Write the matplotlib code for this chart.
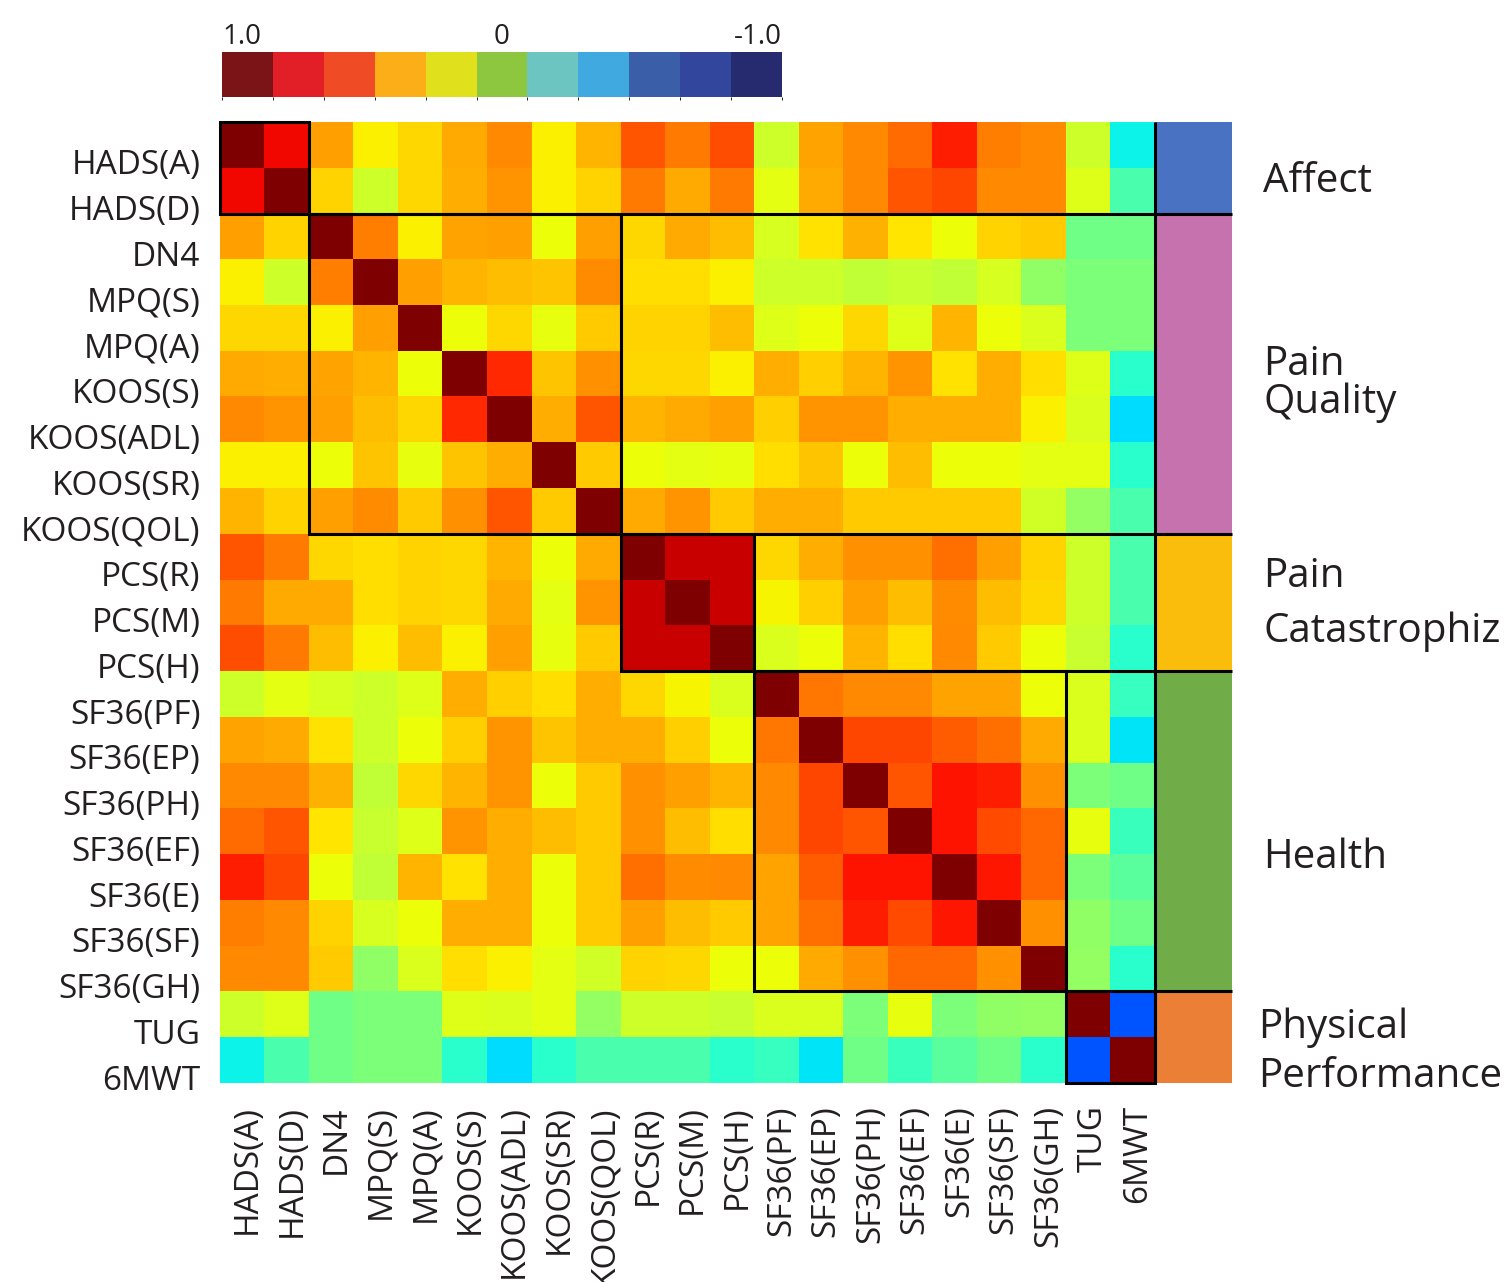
import numpy as np
import matplotlib
matplotlib.use("Agg")
import matplotlib.pyplot as plt
from matplotlib.colors import ListedColormap, BoundaryNorm
from matplotlib.cm import ScalarMappable
from matplotlib.patches import Rectangle
from matplotlib.transforms import ScaledTranslation, blended_transform_factory

plt.rcParams['font.family'] = ['Open Sans', 'DejaVu Sans']

# ---------------- data ----------------
measures = ["HADS(A)", "HADS(D)", "DN4", "MPQ(S)", "MPQ(A)", "KOOS(S)",
            "KOOS(ADL)", "KOOS(SR)", "KOOS(QOL)", "PCS(R)", "PCS(M)", "PCS(H)",
            "SF36(PF)", "SF36(EP)", "SF36(PH)", "SF36(EF)", "SF36(E)",
            "SF36(SF)", "SF36(GH)", "TUG", "6MWT"]

# lower triangle of the correlation matrix (row i, columns 0..i-1)
lower = [
    [0.80],
    [0.48, 0.37],
    [0.31, 0.20, 0.55],
    [0.36, 0.36, 0.31, 0.48],
    [0.46, 0.45, 0.47, 0.43, 0.28],
    [0.53, 0.50, 0.48, 0.42, 0.36, 0.73],
    [0.31, 0.31, 0.28, 0.40, 0.26, 0.40, 0.45],
    [0.43, 0.37, 0.48, 0.52, 0.39, 0.51, 0.64, 0.39],
    [0.64, 0.56, 0.36, 0.35, 0.37, 0.36, 0.43, 0.28, 0.46],
    [0.56, 0.46, 0.46, 0.35, 0.37, 0.36, 0.46, 0.25, 0.50, 0.87],
    [0.65, 0.56, 0.42, 0.31, 0.42, 0.31, 0.48, 0.26, 0.39, 0.87, 0.87],
    [0.20, 0.25, 0.22, 0.20, 0.24, 0.45, 0.38, 0.35, 0.45, 0.36, 0.30, 0.23],
    [0.47, 0.46, 0.34, 0.20, 0.28, 0.38, 0.50, 0.40, 0.45, 0.45, 0.38, 0.28, 0.57],
    [0.53, 0.53, 0.44, 0.17, 0.36, 0.43, 0.50, 0.28, 0.39, 0.51, 0.48, 0.43, 0.53, 0.67],
    [0.59, 0.64, 0.33, 0.18, 0.24, 0.50, 0.45, 0.42, 0.39, 0.51, 0.42, 0.35, 0.53, 0.67, 0.64],
    [0.75, 0.67, 0.28, 0.17, 0.43, 0.34, 0.45, 0.28, 0.39, 0.58, 0.52, 0.53, 0.47, 0.62, 0.78, 0.78],
    [0.55, 0.53, 0.37, 0.22, 0.28, 0.45, 0.45, 0.28, 0.39, 0.48, 0.42, 0.39, 0.47, 0.58, 0.75, 0.66, 0.77],
    [0.53, 0.53, 0.39, 0.05, 0.23, 0.35, 0.31, 0.25, 0.21, 0.37, 0.36, 0.28, 0.28, 0.46, 0.51, 0.60, 0.60, 0.51],
    [0.20, 0.24, -0.03, 0.00, 0.00, 0.24, 0.23, 0.25, 0.06, 0.20, 0.20, 0.18, 0.23, 0.23, 0.00, 0.26, 0.00, 0.05, 0.06],
    [-0.27, -0.12, -0.03, 0.00, 0.00, -0.20, -0.32, -0.20, -0.12, -0.12, -0.12, -0.20, -0.17, -0.30, -0.03, -0.16, -0.08, -0.03, -0.20, -0.58],
]

group_sizes = [2, 7, 3, 7, 2]
group_colors = ["#4a72c2", "#c672ae", "#fbbd0c", "#70ac48", "#eb7f35"]
group_label_lines = [["Affect"], ["Pain", "Quality"], ["Pain", "Catastrophiz"],
                     ["Health"], ["Physical", "Performance"]]

scale_colors = ["#7b1416", "#e21f26", "#ef4b24", "#fbae17", "#e0e01c", "#8dc63f",
                "#6cc5c0", "#3fa9e0", "#3b5ea8", "#31469c", "#262a6e"]
scale_ticks = [1.0, 0.0, -1.0]
scale_labels = ["1.0", "0", "-1.0"]

# ---------------- build matrix ----------------
n = len(measures)
M = np.eye(n)
for i, row in enumerate(lower, start=1):
    for j, v in enumerate(row):
        M[i, j] = v
        M[j, i] = v

# ---------------- figure ----------------
W, H = 1505, 1282
fig = plt.figure(figsize=(W / 100, H / 100), dpi=100)
txt_color = "#231f20"


def fbox(x0, y0, x1, y1):
    return [x0 / W, 1 - y1 / H, (x1 - x0) / W, (y1 - y0) / H]


# heatmap axes: columns 220..1155 px, side bar to 1232 px; rows 122..1083 px
cell_w = (1155 - 220) / n
side_w = (1232 - 1155) / cell_w
ax = fig.add_axes(fbox(220, 122, 1232, 1083))
ax.imshow(M, cmap="jet", vmin=-1, vmax=1, extent=(0, n, n, 0),
          aspect="auto", interpolation="nearest")
ax.set_xlim(0, n + side_w)
ax.set_ylim(n, 0)
for s in ax.spines.values():
    s.set_visible(False)

ax.set_xticks(np.arange(n) + 0.5)
ax.set_xticklabels(measures, rotation=90, fontsize=24, color=txt_color)
ax.set_yticks(np.arange(n) + 0.5)
ax.set_yticklabels(measures, fontsize=24, color=txt_color)
ax.tick_params(axis="x", length=0, pad=16)
ax.tick_params(axis="y", length=0, pad=14)
off_y = ScaledTranslation(0, -0.17, fig.dpi_scale_trans)
for lab in ax.get_yticklabels():
    lab.set_transform(lab.get_transform() + off_y)
off_x = ScaledTranslation(0.05, 0, fig.dpi_scale_trans)
for lab in ax.get_xticklabels():
    lab.set_transform(lab.get_transform() + off_x)

# side bar and group boxes
bounds = np.concatenate([[0], np.cumsum(group_sizes)])
lw = 2.2
for k in range(len(group_sizes)):
    a, b = bounds[k], bounds[k + 1]
    ax.add_patch(Rectangle((n, a), side_w, b - a, facecolor=group_colors[k],
                           edgecolor="none", clip_on=False, zorder=2))
    ax.add_patch(Rectangle((a, a), b - a, b - a, facecolor="none",
                           edgecolor="black", lw=lw, clip_on=False, zorder=4))
for b in bounds[1:-1]:
    ax.plot([b, n + side_w], [b, b], color="black", lw=lw, clip_on=False,
            zorder=4, solid_capstyle="butt")
ax.plot([n, n], [0, n], color="black", lw=lw, clip_on=False, zorder=4,
        solid_capstyle="butt")

# group labels (baseline positions in pixels)
label_px = [[(1263, 192)], [(1263, 375), (1263, 413)], [(1263, 587), (1263, 642)],
            [(1263, 868)], [(1258, 1038), (1258, 1087)]]
for lines, pos in zip(group_label_lines, label_px):
    for t, (px, py) in zip(lines, pos):
        fig.text(px / W, 1 - py / H, t, fontsize=29, color=txt_color,
                 ha="left", va="baseline")

# ---------------- colour scale ----------------
cax = fig.add_axes(fbox(222, 52, 782, 97))
cmap_bar = ListedColormap(scale_colors[::-1])
norm_bar = BoundaryNorm(np.linspace(-1, 1, len(scale_colors) + 1), len(scale_colors))
cb = fig.colorbar(ScalarMappable(norm=norm_bar, cmap=cmap_bar), cax=cax,
                  orientation="horizontal")
cb.outline.set_visible(False)
cb.set_ticks([])
cax.set_xlim(1, -1)
tr = blended_transform_factory(cax.transData, cax.transAxes)
for v, s, ha in zip(scale_ticks, scale_labels, ["left", "center", "right"]):
    cax.text(v, 1.18, s, transform=tr, ha=ha, va="baseline", fontsize=20,
             color=txt_color)

fig.savefig("out.png", dpi=100)
